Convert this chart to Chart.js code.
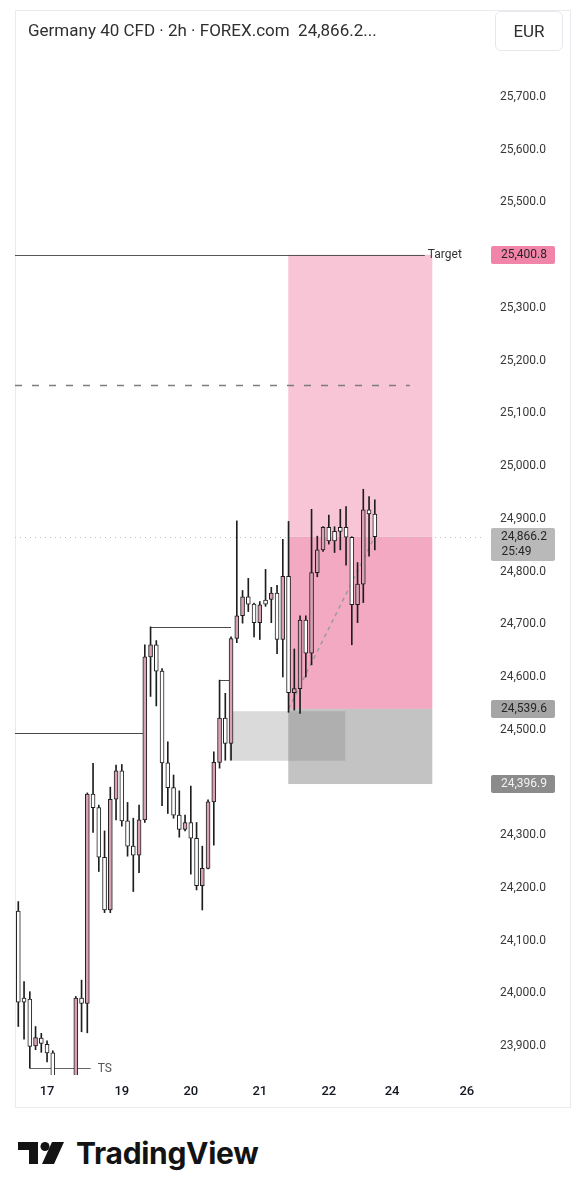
<!DOCTYPE html>
<html>
<head>
<meta charset="utf-8">
<script src="https://cdn.jsdelivr.net/npm/chart.js@4.4.1/dist/chart.umd.min.js"></script>
<style>
html,body{margin:0;padding:0;background:#fff;}
body{width:585px;height:1200px;position:relative;overflow:hidden;font-family:Roboto,"Noto Sans",sans-serif;}
#frame{position:absolute;left:15px;top:10px;width:554px;height:1096px;border:1px solid #e9ebef;}
#title{position:absolute;left:28px;top:19px;font-size:17px;line-height:22px;color:#2f2f2f;white-space:nowrap;}
#cur{position:absolute;left:495px;top:11px;width:66px;height:38px;border:1px solid #e6e7ea;border-radius:6px;
  font-size:17px;line-height:38px;text-align:center;color:#2f2f2f;}
#wrap{position:absolute;left:15px;top:10px;width:555px;height:1097px;}
#logo{position:absolute;left:0;top:1120px;}
</style>
</head>
<body>
<div id="frame"></div>
<div id="wrap"><canvas id="c" width="555" height="1097"></canvas></div>
<div id="title">Germany 40 CFD · 2h · FOREX.com&nbsp;&nbsp;24,866.2...</div>
<div id="cur">EUR</div>
<svg id="logo" width="300" height="70" viewBox="0 1120 300 70">
  <rect x="18" y="1142" width="20" height="8" fill="#131313"/>
  <rect x="29" y="1142" width="9" height="22" fill="#131313"/>
  <circle cx="45" cy="1146.5" r="4.5" fill="#131313"/>
  <polygon points="52,1142 64,1142 54,1164 42,1164" fill="#131313"/>
  <text x="76" y="1164" font-family="Inter, 'Noto Sans', sans-serif" font-weight="700" font-size="30" fill="#131313" letter-spacing="-0.3">TradingView</text>
</svg>
<script>
// ---- data (2h candles, index = bar number) ----
const opens  = [24156,23991,23989,23900,23915,23903,23887,23800,23790,23805,23820,23991,23981,24378,24352,24258,24158,24368,24422,24327,24279,24262,24329,24638,24661,24611,24437,24390,24338,24311,24324,24294,24204,24237,24363,24438,24522,24474,24673,24716,24752,24738,24703,24746,24747,24759,24671,24791,24570,24578,24708,24645,24798,24841,24884,24876,24884,24884,24865,24737,24776,24917,24909];
const highs  = [24174,24022,24003,23937,23924,23910,23891,23825,23815,23835,23994,24025,24380,24436,24357,24308,24391,24433,24434,24362,24332,24357,24661,24695,24669,24616,24477,24414,24384,24338,24393,24324,24279,24367,24458,24594,24569,24676,24896,24764,24787,24740,24743,24804,24770,24774,24861,24895,24653,24716,24716,24918,24867,24885,24907,24885,24918,24923,24866,24817,24956,24942,24936];
const lows   = [23937,23913,23858,23893,23888,23870,23780,23760,23750,23785,23800,23927,23925,24305,24231,24153,24153,24329,24317,24260,24193,24229,24324,24563,24545,24356,24341,24332,24296,24308,24226,24196,24158,24236,24281,24427,24442,24442,24665,24702,24724,24676,24671,24734,24703,24644,24600,24533,24537,24531,24600,24623,24790,24838,24852,24836,24841,24812,24661,24703,24741,24829,24841];
const closes = [23983,23983,23899,23916,23905,23887,23800,23790,23805,23820,23991,23981,24378,24352,24258,24158,24368,24422,24327,24279,24262,24329,24638,24661,24611,24437,24390,24338,24311,24324,24294,24204,24237,24363,24438,24522,24474,24673,24716,24752,24738,24703,24737,24738,24759,24671,24791,24570,24578,24708,24645,24798,24841,24884,24858,24858,24876,24865,24737,24776,24917,24909,24866.2];

const dayTicks  = [5, 18, 30, 42, 54, 65, 78];
const dayLabels = ['17', '19', '20', '21', '22', '24', '26'];
const priceTicks = [23900,24000,24100,24200,24300,24400,24500,24600,24700,24800,24900,25000,25100,25200,25300,25400,25500,25600,25700];

// position tool / drawing levels
const targetPrice = 25400.8;
const lastPrice   = 24866.2;
const entryPrice  = 24539.6;
const stopPrice   = 24396.9;
const lastTimer   = '25:49';
const posStart = 46.95, posEnd = 72.0;
const dashedLevel = 25153.6;
const structLevels = [ // [price, fromBar, toBar]  (fromBar null = left edge)
  [24494, null, 22],
  [24695, 23, 37],
  [24594, 35, 37]
];
const tsLevel = 23858, tsFrom = 2, tsTo = 12.6;
const targetLineEnd = 70.7, dashedLineEnd = 68.1;
const zoneBox = {from: 36.7, to: 56.85, top: 24535, bottom: 24441};
const xMin = -0.574, xMax = 81.165, yMin = 23845.0, yMax = 25770.2;

const fmt = v => v.toLocaleString('en-US', {minimumFractionDigits: 1, maximumFractionDigits: 1});

const overlay = {
  id: 'overlay',
  beforeDatasetsDraw(chart) {
    const {ctx, chartArea: a, scales: {x, y}} = chart;
    const X = v => x.getPixelForValue(v), Y = v => y.getPixelForValue(v);
    ctx.save();
    ctx.beginPath(); ctx.rect(a.left, a.top, a.right - a.left, a.bottom - a.top); ctx.clip();
    // profit zone
    ctx.fillStyle = '#f8c5d7';
    ctx.fillRect(X(posStart), Y(targetPrice), X(posEnd) - X(posStart), Y(lastPrice) - Y(targetPrice));
    ctx.fillStyle = '#f4a9c3';
    ctx.fillRect(X(posStart), Y(lastPrice), X(posEnd) - X(posStart), Y(entryPrice) - Y(lastPrice));
    // stop zone
    ctx.fillStyle = 'rgba(128,128,128,0.47)';
    ctx.fillRect(X(posStart), Y(entryPrice), X(posEnd) - X(posStart), Y(stopPrice) - Y(entryPrice));
    // grey box
    ctx.fillStyle = 'rgba(128,128,128,0.29)';
    ctx.fillRect(X(zoneBox.from), Y(zoneBox.top), X(zoneBox.to) - X(zoneBox.from), Y(zoneBox.bottom) - Y(zoneBox.top));

    const hline = (p, x0, x1, color, w, dash) => {
      const yy = Math.round(Y(p)) + 0.5;
      ctx.beginPath(); ctx.setLineDash(dash || []); ctx.strokeStyle = color; ctx.lineWidth = w;
      ctx.moveTo(x0, yy); ctx.lineTo(x1, yy); ctx.stroke();
    };
    // current price dotted
    hline(lastPrice, a.left, a.right, '#bdbdbd', 1, [1, 4]);
    // target
    hline(targetPrice, a.left, X(targetLineEnd), '#555', 1);
    // dashed level
    hline(dashedLevel, a.left, X(dashedLineEnd), '#7d7d7d', 1.4, [7, 10]);
    // structure
    structLevels.forEach(([p, f, t]) => hline(p, f === null ? a.left : X(f), X(t), '#4a4a4a', 1));
    // TS
    hline(tsLevel, X(tsFrom), X(tsTo), '#666', 1.2);
    // diagonal
    ctx.beginPath(); ctx.setLineDash([4, 4]); ctx.strokeStyle = '#9b9b9b'; ctx.lineWidth = 1.5;
    ctx.moveTo(X(posStart + 0.05), Y(entryPrice)); ctx.lineTo(X(closes.length - 1), Y(lastPrice)); ctx.stroke();
    ctx.setLineDash([]);
    ctx.restore();

    ctx.save();
    ctx.font = '12px Roboto, sans-serif'; ctx.textBaseline = 'middle'; ctx.textAlign = 'left';
    ctx.fillStyle = '#333';
    ctx.fillText('Target', X(targetLineEnd) + 3, Y(targetPrice));
    ctx.fillStyle = '#555';
    ctx.fillText('TS', X(tsTo) + 7, Y(tsLevel) + 1);
    ctx.restore();
  },
  afterDraw(chart) {
    const {ctx, scales: {y}} = chart;
    const Y = v => y.getPixelForValue(v);
    const bx = y.left + 6, bw = 64, tx = y.left + 62;
    const box = (p, bg, fg, h2) => {
      const yc = Y(p);
      const top = yc - 9, h = h2 ? 33 : 18;
      ctx.fillStyle = bg;
      ctx.beginPath(); ctx.roundRect(bx, Math.round(top), bw, h, 2); ctx.fill();
      ctx.fillStyle = fg; ctx.font = '12px Roboto, sans-serif'; ctx.textBaseline = 'middle';
      ctx.textAlign = 'right'; ctx.fillText(fmt(p), tx, yc);
      if (h2) { ctx.textAlign = 'left'; ctx.fillText(h2, bx + 10.5, yc + 15); }
    };
    ctx.save();
    box(targetPrice, '#f185a9', '#262626');
    box(lastPrice, '#b9b9b9', '#262626', lastTimer);
    box(entryPrice, '#a5a5a5', '#262626');
    box(stopPrice, '#8b8b8b', '#f2f2f2');
    ctx.restore();
  }
};

Chart.defaults.font.family = 'Roboto, sans-serif';
new Chart(document.getElementById('c'), {
  type: 'bar',
  data: {
    datasets: [
      {
        label: 'wick', order: 2, grouped: false, barThickness: 1,
        backgroundColor: '#1e1e1e', borderWidth: 0,
        data: highs.map((h, i) => ({x: i, y: [lows[i], h]}))
      },
      {
        label: 'body', order: 1, grouped: false, barThickness: 4,
        borderColor: '#1e1e1e', borderWidth: 1, borderSkipped: false,
        backgroundColor: ctx => {
          const i = ctx.dataIndex;
          return closes[i] > opens[i] ? '#d8a2b3' : '#ffffff';
        },
        data: opens.map((o, i) => ({x: i, y: [o, closes[i]]}))
      }
    ]
  },
  options: {
    responsive: false, animation: false, devicePixelRatio: 1,
    layout: {padding: {top: 50, left: 0, right: 0, bottom: 0}},
    plugins: {legend: {display: false}, tooltip: {enabled: false}},
    events: [],
    scales: {
      x: {
        type: 'linear', min: xMin, max: xMax, offset: false,
        grid: {display: false, drawTicks: false}, border: {display: false},
        afterBuildTicks: s => { s.ticks = dayTicks.map(v => ({value: v})); },
        afterFit: s => { s.height = 32; },
        ticks: {
          autoSkip: false, maxRotation: 0, padding: 9,
          color: '#131722', font: {size: 13, weight: '500'},
          callback: v => dayLabels[dayTicks.indexOf(v)]
        }
      },
      y: {
        type: 'linear', position: 'right', min: yMin, max: yMax,
        grid: {display: false, drawTicks: false}, border: {display: false},
        afterBuildTicks: s => { s.ticks = priceTicks.map(v => ({value: v})); },
        afterFit: s => { s.width = 85; },
        ticks: {
          autoSkip: false, padding: 15, crossAlign: 'near',
          color: '#383838', font: {size: 12},
          callback: v => fmt(v)
        }
      }
    }
  },
  plugins: [overlay]
});
</script>
</body>
</html>
